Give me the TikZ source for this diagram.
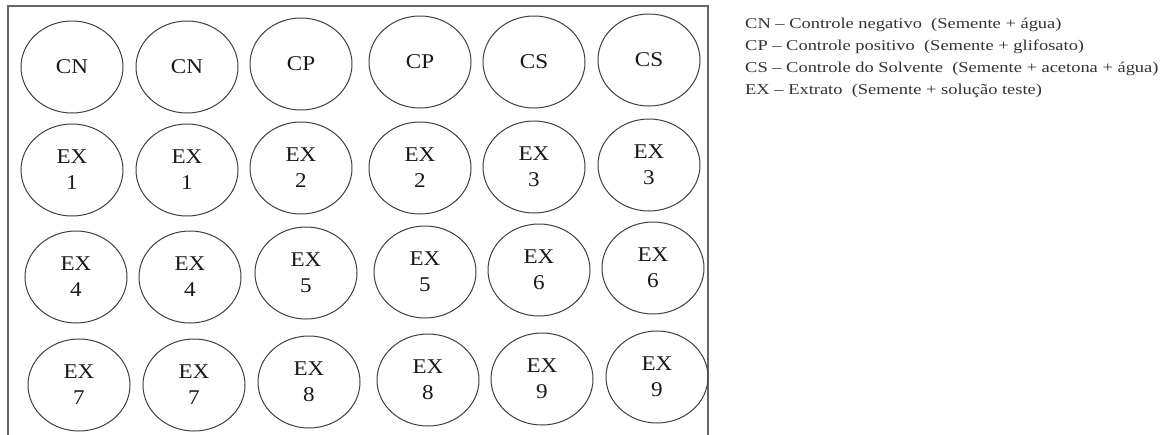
\documentclass[tikz,border=0pt]{standalone}
\usepackage{fontspec}
\setmainfont{Liberation Serif}
\usepackage{graphicx}
\usetikzlibrary{shapes.geometric}
\newcommand\wtxt[1]{\scalebox{1.1}[1]{#1}}
\newcommand\ltxt[1]{\scalebox{1.23}[1]{#1}}
\begin{document}
\begin{tikzpicture}[x=1pt,y=-1pt,
  well/.style={draw=black!75, line width=1pt, ellipse, minimum width=102pt,
    minimum height=92pt, inner sep=0pt, align=center, text=black!90,
    font=\fontsize{21}{26}\selectfont},
  frame/.style={draw=black!60, line width=1.4pt},
  legend/.style={anchor=base west, inner sep=0pt, text=black!80,
    font=\fontsize{15}{15}\selectfont}]
\useasboundingbox[fill=white] (0,0) rectangle (1169,434);
\draw[frame] (8,440) -- (8,6) -- (708,6) -- (708,440);
% row 1
\node[well] (a1) at (72,67)  {\wtxt{CN}};
\node[well] (a2) at (187,67) {\wtxt{CN}};
\node[well] (a3) at (301,64) {\wtxt{CP}};
\node[well] (a4) at (420,62) {\wtxt{CP}};
\node[well] (a5) at (534,62) {\wtxt{CS}};
\node[well] (a6) at (649,60) {\wtxt{CS}};
% row 2
\node[well] (b1) at (72,170)  {\wtxt{EX}\\\wtxt{1}};
\node[well] (b2) at (187,170) {\wtxt{EX}\\\wtxt{1}};
\node[well] (b3) at (301,168) {\wtxt{EX}\\\wtxt{2}};
\node[well] (b4) at (420,168) {\wtxt{EX}\\\wtxt{2}};
\node[well] (b5) at (534,167) {\wtxt{EX}\\\wtxt{3}};
\node[well] (b6) at (649,165) {\wtxt{EX}\\\wtxt{3}};
% row 3
\node[well] (c1) at (76,277)  {\wtxt{EX}\\\wtxt{4}};
\node[well] (c2) at (190,277) {\wtxt{EX}\\\wtxt{4}};
\node[well] (c3) at (306,273) {\wtxt{EX}\\\wtxt{5}};
\node[well] (c4) at (425,272) {\wtxt{EX}\\\wtxt{5}};
\node[well] (c5) at (539,270) {\wtxt{EX}\\\wtxt{6}};
\node[well] (c6) at (653,268) {\wtxt{EX}\\\wtxt{6}};
% row 4
\node[well] (d1) at (79,385)  {\wtxt{EX}\\\wtxt{7}};
\node[well] (d2) at (194,385) {\wtxt{EX}\\\wtxt{7}};
\node[well] (d3) at (309,382) {\wtxt{EX}\\\wtxt{8}};
\node[well] (d4) at (428,380) {\wtxt{EX}\\\wtxt{8}};
\node[well] (d5) at (542,379) {\wtxt{EX}\\\wtxt{9}};
\node[well] (d6) at (657,377) {\wtxt{EX}\\\wtxt{9}};
% legend
\node[legend] (l1) at (745,28) {\ltxt{CN -- Controle negativo\ \ (Semente + água)}};
\node[legend] (l2) at (745,50) {\ltxt{CP -- Controle positivo\ \ (Semente + glifosato)}};
\node[legend] (l3) at (745,72) {\ltxt{CS -- Controle do Solvente\ \ (Semente + acetona + água)}};
\node[legend] (l4) at (745,94) {\ltxt{EX -- Extrato\ \ (Semente + solução teste)}};
\end{tikzpicture}
\end{document}
